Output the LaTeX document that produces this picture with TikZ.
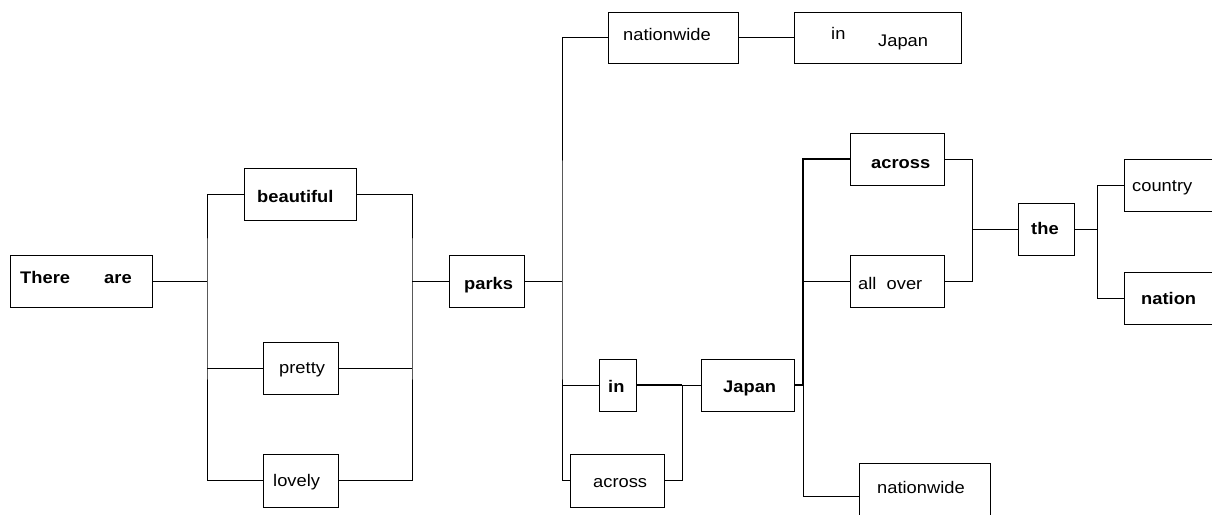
\documentclass[tikz,border=0pt]{standalone}
\usepackage{fontspec}
\setmainfont{Liberation Sans}[FakeStretch=1.09]
\begin{document}
\begin{tikzpicture}[x=1pt,y=-1pt,
  box/.style={draw, line width=1pt, inner sep=0pt, minimum height=52pt},
  txt/.style={anchor=base west, inner sep=0pt, font=\fontsize{16.8}{20}\selectfont},
  btxt/.style={txt, font=\fontsize{16.8}{20}\selectfont\bfseries},
  conn/.style={line width=1pt},
  thick conn/.style={line width=1.7pt}]
\useasboundingbox (0,0) rectangle (1212,514);
\clip (0,0) rectangle (1212,514);
% boxes
\node[box, minimum width=142pt] (there) at (81,281) {};
\node[box, minimum width=112pt] (beautiful) at (300,194) {};
\node[box, minimum width=75pt] (pretty) at (300.5,368) {};
\node[box, minimum width=75pt, minimum height=53pt] (lovely) at (300.5,480.5) {};
\node[box, minimum width=75pt] (parks) at (486.5,281) {};
\node[box, minimum width=130pt, minimum height=51pt] (nwa) at (673,37.5) {};
\node[box, minimum width=167pt, minimum height=51pt] (inJ) at (877.5,37.5) {};
\node[box, minimum width=37pt] (in) at (617.5,385) {};
\node[box, minimum width=93pt] (japan) at (747.5,385) {};
\node[box, minimum width=94pt, minimum height=53pt] (acrossa) at (617,480.5) {};
\node[box, minimum width=94pt] (acrossb) at (897,159) {};
\node[box, minimum width=94pt] (allover) at (897,281) {};
\node[box, minimum width=56pt] (the) at (1046,229) {};
\node[box, minimum width=116pt] (country) at (1182,185) {};
\node[box, minimum width=116pt] (nation) at (1182,298) {};
\node[box, minimum width=131pt, minimum height=67pt] (nwb) at (924.5,496.5) {};
% texts
\node[btxt] (t1) at (20,283) {There};
\node[btxt] (t2) at (104,283) {are};
\node[btxt] (t3) at (257,202) {beautiful};
\node[txt] (t4) at (279,373) {pretty};
\node[txt] (t5) at (273,486) {lovely};
\node[btxt] (t6) at (464,289) {parks};
\node[txt] (t7) at (623,40) {nationwide};
\node[txt] (t8) at (831,39) {in};
\node[txt] (t9) at (878,46) {Japan};
\node[btxt] (t10) at (608,392) {in};
\node[btxt] (t11) at (723,392) {Japan};
\node[txt] (t12) at (593,487) {across};
\node[btxt] (t13) at (871,168) {across};
\node[txt] (t14) at (858,289) {all\ \ over};
\node[btxt] (t15) at (1031,234) {the};
\node[txt] (t16) at (1132,191) {country};
\node[btxt] (t17) at (1141,304) {nation};
\node[txt] (t18) at (877,493) {nationwide};
% bus coordinates
\coordinate (bA) at (207,281);
\coordinate (bB) at (412,281);
\coordinate (bC) at (562,281);
\coordinate (bD) at (682,385);
\coordinate (bE) at (803,385);
\coordinate (bF) at (972,229);
\coordinate (bG) at (1097,229);
% connectors
\draw[conn] (there.east) -- (bA);
\draw[conn] (beautiful.west) -| (bA) |- (lovely.west);
\draw[conn] (pretty.west) -- (pretty.west -| bA);
\draw[conn] (beautiful.east) -| (bB) |- (lovely.east);
\draw[conn] (pretty.east) -- (pretty.east -| bB);
\draw[conn] (bB) -- (parks.west);
\draw[conn] (parks.east) -- (bC);
\draw[conn] (nwa.west) -| (bC) |- (acrossa.west);
\draw[conn] (in.west) -- (in.west -| bC);
\draw[conn] (nwa.east) -- (inJ.west);
\draw[thick conn] (in.east) -- (bD);
\draw[conn] (bD) -- (japan.west);
\draw[conn] (acrossa.east) -| (bD);
\draw[thick conn] (japan.east) -- (bE);
\draw[thick conn] (acrossb.west) -| (bE);
\draw[conn] (bE) |- (nwb.west);
\draw[conn] (allover.west) -- (allover.west -| bE);
\draw[conn] (acrossb.east) -| (bF) |- (allover.east);
\draw[conn] (bF) -- (the.west);
\draw[conn] (the.east) -- (bG);
\draw[conn] (country.west) -| (bG) |- (nation.west);
\end{tikzpicture}
\end{document}
